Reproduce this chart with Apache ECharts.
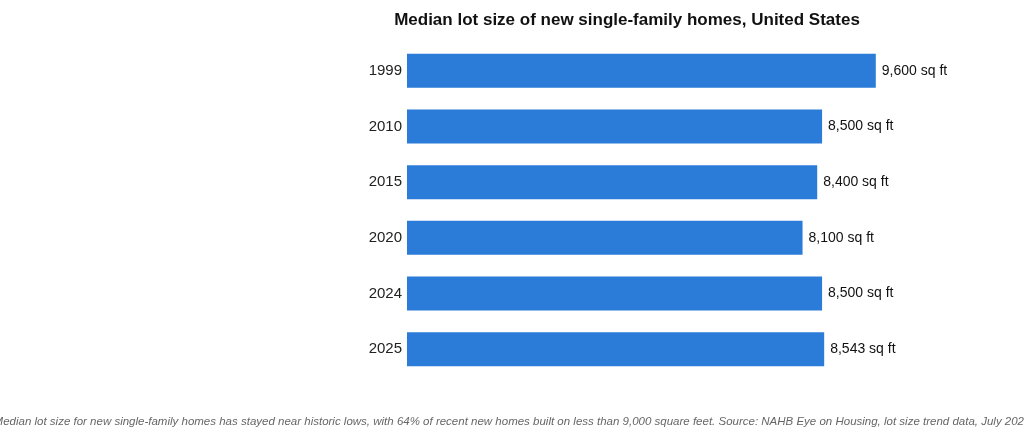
<!DOCTYPE html>
<html><head><meta charset="utf-8">
<script src="https://cdn.jsdelivr.net/npm/echarts@6/dist/echarts.min.js"></script>
<style>html,body{margin:0;padding:0;background:#fff}#c{width:1024px;height:440px}</style>
</head><body><div id="c"></div>
<script>
const categories = ["1999","2010","2015","2020","2024","2025"];
const values = [9600,8500,8400,8100,8500,8543];
const labels = ["9,600 sq ft","8,500 sq ft","8,400 sq ft","8,100 sq ft","8,500 sq ft","8,543 sq ft"];
const chart = echarts.init(document.getElementById('c'));
chart.setOption({
  animation:false,
  title:{text:"Median lot size of new single-family homes, United States",left:622,textAlign:'center',top:7,
    textStyle:{fontFamily:'Liberation Sans',fontSize:17,fontWeight:'bold',color:'#111'}},
  graphic:[{type:'text',left:'center',top:416,style:{text:"Median lot size for new single-family homes has stayed near historic lows, with 64% of recent new homes built on less than 9,000 square feet. Source: NAHB Eye on Housing, lot size trend data, July 2026",
    font:'italic 11.5px Liberation Sans',fill:'#666'}}],
  grid:{left:407,width:586,top:43,height:334},
  xAxis:{type:'value',min:0,max:12000,show:false},
  yAxis:{type:'category',data:categories,inverse:true,axisLine:{show:false},axisTick:{show:false},
    axisLabel:{fontFamily:'Liberation Sans',fontSize:15,color:'#222',margin:5}},
  series:[{type:'bar',data:values,barWidth:34,itemStyle:{color:'#2b7bd8'},
    label:{show:true,position:'right',distance:6,fontFamily:'Liberation Sans',fontSize:14,color:'#111',
      formatter:p=>labels[p.dataIndex]}}]
});
</script></body></html>
